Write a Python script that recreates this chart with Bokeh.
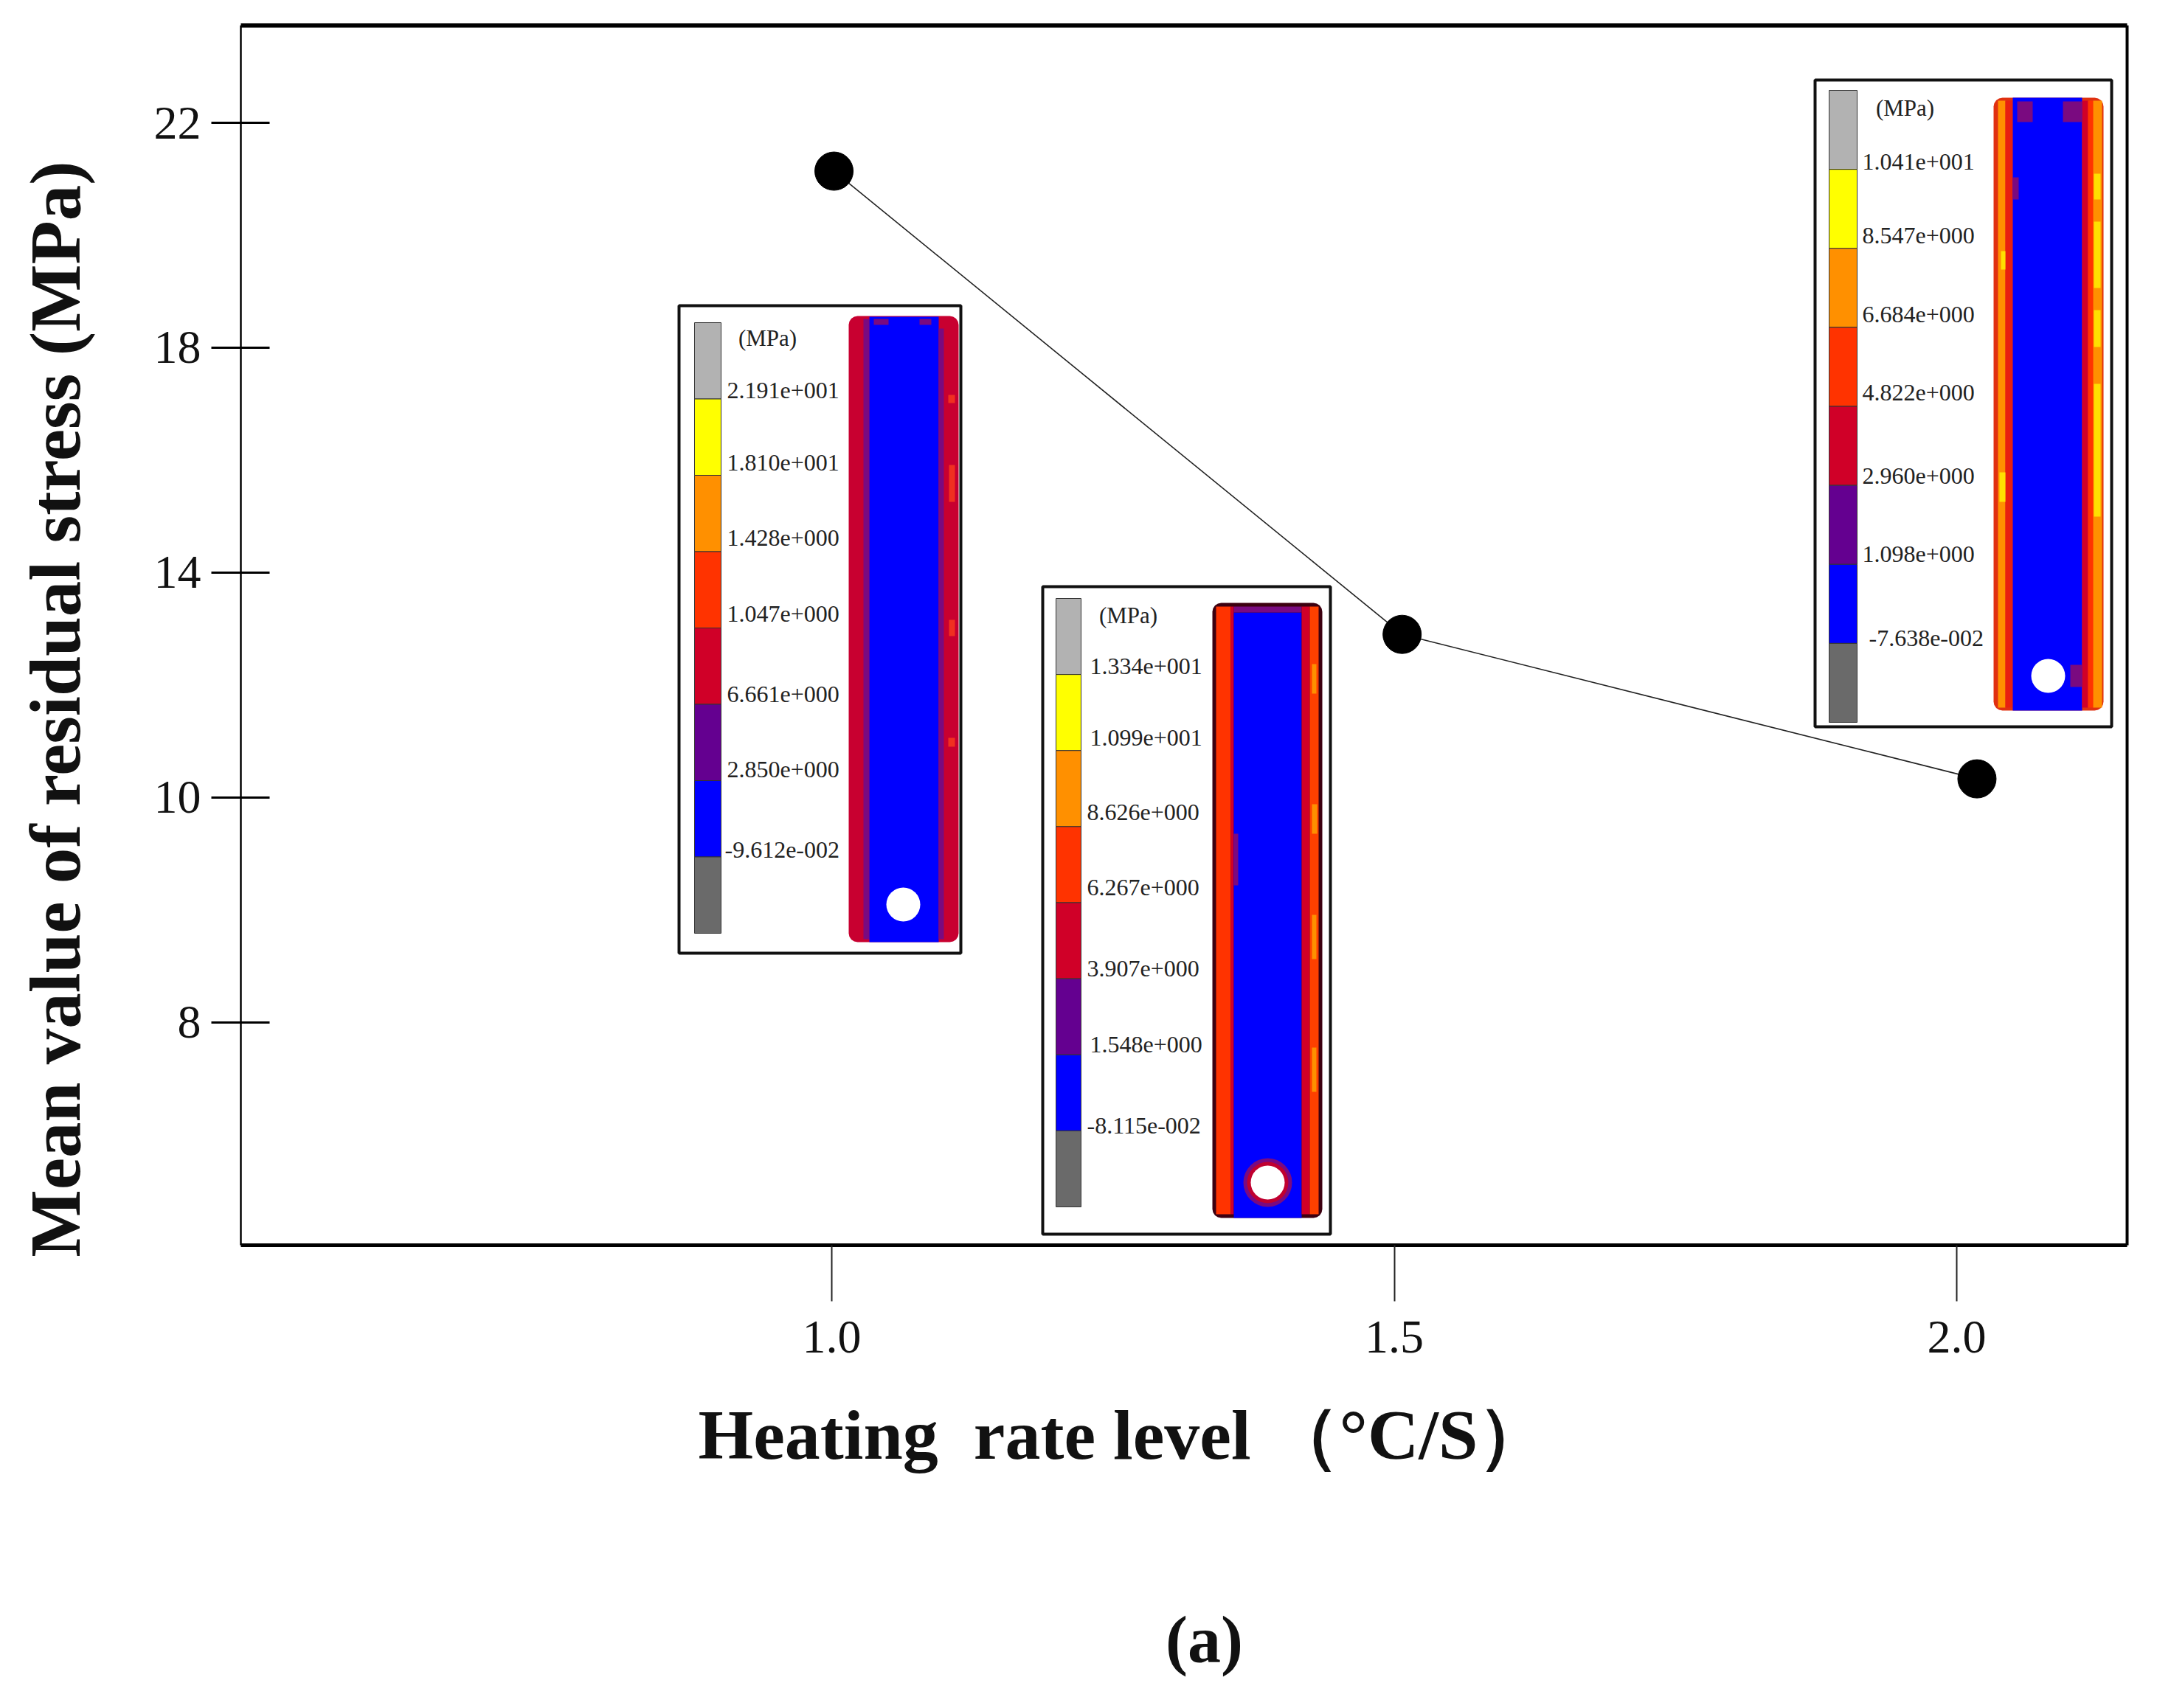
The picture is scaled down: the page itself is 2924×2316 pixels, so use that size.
import math
from bokeh.plotting import figure
from bokeh.embed import file_html
from bokeh.resources import INLINE
from bokeh.models import LinearAxis, FixedTicker, Range1d
from bokeh.core.properties import value

# ---- data
heating_rate = [1.002, 1.507, 2.018]
mean_stress = [21.14, 12.90, 10.33]
x_ticks = [1.0, 1.5, 2.0]
x_tick_text = {1.0: "1.0", 1.5: "1.5", 2.0: "2.0"}
y_ticks = [22, 18, 14, 10, 6]           # the last tick of the source axis sits where 6 would be
y_tick_text = {22: "22", 18: "18", 14: "14", 10: "10", 6: "8"}
x_title = "Heating\u00a0\u00a0rate level  （°C/S）"
y_title = "Mean value of residual stress (MPa)"
caption = "(a)"
legend_colors = ["#b2b2b2", "#ffff00", "#ff9000", "#ff3300", "#d00028", "#640090", "#0000ff", "#6a6a6a"]
labels_a = ["2.191e+001", "1.810e+001", "1.428e+000", "1.047e+000", "6.661e+000", "2.850e+000", "-9.612e-002"]
labels_b = ["1.334e+001", "1.099e+001", "8.626e+000", "6.267e+000", "3.907e+000", "1.548e+000", "-8.115e-002"]
labels_c = ["1.041e+001", "8.547e+000", "6.684e+000", "4.822e+000", "2.960e+000", "1.098e+000", "-7.638e-002"]

# ---- page geometry (pixels in the window)
W, H = 2924, 2316
F_L, F_R, F_T, F_B = 326, 2883, 34, 1688
XPX, YPX = 1525.0, 76.23
X0PX, Y22PX = 1127.0, 166.0

def dx(px):
    return 1.0 + (px - X0PX) / XPX

def dy(px):
    return 22.0 - (px - Y22PX) / YPX

SERIF = "Liberation Serif"

p = figure(width=W - 8, height=H - 8, output_backend="svg", toolbar_location=None,
           x_range=Range1d(dx(F_L), dx(F_R)), y_range=Range1d(dy(F_B), dy(F_T)),
           x_axis_type=None, y_axis_type=None,
           min_border_left=F_L, min_border_right=W - 8 - F_R,
           min_border_top=F_T, min_border_bottom=H - 8 - F_B)
p.grid.visible = False
p.outline_line_color = None
p.background_fill_color = "white"

bottom = LinearAxis(ticker=FixedTicker(ticks=x_ticks), major_label_overrides=x_tick_text)
bottom.axis_line_width = 5
bottom.major_tick_in = 0
bottom.major_tick_out = 76
bottom.major_tick_line_width = 2
bottom.major_tick_line_color = "#222222"
bottom.minor_tick_line_color = None
bottom.major_label_text_font = SERIF
bottom.major_label_text_font_size = "64px"
bottom.major_label_text_color = "#111111"
bottom.major_label_standoff = 27
p.add_layout(bottom, "below")

left = LinearAxis(ticker=FixedTicker(ticks=y_ticks), major_label_overrides=y_tick_text)
left.axis_line_width = 2.5
left.major_tick_in = 39
left.major_tick_out = 40
left.major_tick_line_width = 3
left.minor_tick_line_color = None
left.major_label_text_font = SERIF
left.major_label_text_font_size = "64px"
left.major_label_text_color = "#111111"
left.major_label_standoff = 14
p.add_layout(left, "left")

for side in ("above", "right"):
    ax = LinearAxis(ticker=FixedTicker(ticks=[]))
    ax.axis_line_width = 6 if side == "above" else 4
    ax.major_tick_line_color = None
    ax.minor_tick_line_color = None
    ax.major_label_text_font_size = "0px"
    ax.major_label_standoff = 0
    p.add_layout(ax, side)


def plate_outline(x0, x1, y0, y1, r):
    xs, ys = [], []
    for cx, cy, a0 in ((x1 - r, y0 + r, -90), (x1 - r, y1 - r, 0), (x0 + r, y1 - r, 90), (x0 + r, y0 + r, 180)):
        for k in range(5):
            a = math.radians(a0 + k * 22.5)
            xs.append(dx(cx + r * math.cos(a)))
            ys.append(dy(cy + r * math.sin(a)))
    return xs, ys


def boxes(rects, color):
    if rects:
        p.quad(left=[dx(r[0]) for r in rects], right=[dx(r[1]) for r in rects],
               top=[dy(r[2]) for r in rects], bottom=[dy(r[3]) for r in rects],
               fill_color=color, line_color=None)


def inset(box, bar, label_y, label_x, texts, unit, plate, edge, bands, flecks, hole, ring=None):
    bx0, bx1, by0, by1 = box
    p.quad(left=[dx(bx0)], right=[dx(bx1)], top=[dy(by0)], bottom=[dy(by1)],
           fill_color="white", line_color="#111111", line_width=4)
    cx0, cx1, cy0, cy1 = bar
    step = (cy1 - cy0) / len(legend_colors)
    p.quad(left=[dx(cx0)] * 8, right=[dx(cx1)] * 8,
           top=[dy(cy0 + i * step) for i in range(8)],
           bottom=[dy(cy0 + (i + 1) * step) for i in range(8)],
           fill_color=legend_colors, line_color="#333333", line_width=1)
    p.text(x=[dx(unit[0] - 3)], y=[dy(unit[1] - 4)], text=["(MPa)"], text_font=value(SERIF),
           text_font_size="31px", text_align="center", text_baseline="middle", text_color="#222222")
    p.text(x=[dx(v) for v in label_x], y=[dy(v - 4) for v in label_y], text=texts, text_font=value(SERIF),
           text_font_size="32px", text_align="left", text_baseline="middle", text_color="#222222")
    px0, px1, py0, py1 = plate
    xs, ys = plate_outline(px0, px1, py0, py1, 12)
    p.patch(xs, ys, fill_color=edge, line_color=None)
    for b0, b1, top_px, bot_px, color in bands:
        boxes([(b0, b1, top_px, bot_px)], color)
    for color, rects in flecks:
        boxes(rects, color)
    if ring:
        for rad, col in ((ring, "#7a0a80"), (ring - 5, "#c00030")):
            p.ellipse(x=[dx(hole[0])], y=[dy(hole[1])], width=rad * 2 / XPX, height=rad * 2 / YPX,
                      fill_color=col, line_color=None)
    p.ellipse(x=[dx(hole[0])], y=[dy(hole[1])], width=hole[2] * 2 / XPX, height=hole[2] * 2 / YPX,
              fill_color="white", line_color=None)


# left inset
inset(box=(920, 1302, 414, 1292), bar=(941, 977, 437, 1265),
      label_y=[533, 631, 733, 836, 945, 1047, 1156],
      label_x=[985, 985, 985, 985, 985, 985, 982], texts=labels_a, unit=(1043, 462),
      plate=(1150, 1299, 428, 1277), edge="#c80030",
      bands=[(1170, 1178, 432, 1273, "#7a0a80"), (1178, 1272, 429, 1277, "#0000ff"),
             (1272, 1279, 445, 1273, "#7a0a80")],
      flecks=[("#7a0a80", [(1184, 1204, 432, 440), (1246, 1262, 432, 440)]),
              ("#f03020", [(1285, 1294, 535, 546), (1286, 1294, 630, 680), (1286, 1294, 840, 862), (1285, 1294, 1000, 1012)])],
      hole=(1224, 1226, 23))

# middle inset
inset(box=(1413, 1803, 795, 1673), bar=(1431, 1465, 811, 1636),
      label_y=[907, 1004, 1105, 1207, 1317, 1420, 1530],
      label_x=[1477, 1477, 1473, 1473, 1473, 1477, 1473], texts=labels_b, unit=(1532, 838),
      plate=(1643, 1792, 817, 1651), edge="#3d0010",
      bands=[(1648, 1668, 822, 1646, "#ff3300"), (1668, 1672, 822, 1646, "#d00028"),
             (1672, 1764, 830, 1651, "#0000ff"), (1672, 1764, 822, 830, "#7a0a80"),
             (1764, 1775, 822, 1646, "#d00028"), (1775, 1787, 822, 1646, "#ff4000")],
      flecks=[("#ff9000", [(1778, 1784, 900, 940), (1778, 1785, 1090, 1130), (1778, 1784, 1240, 1300), (1778, 1784, 1420, 1480)]),
              ("#7a0a80", [(1672, 1678, 1130, 1200)])],
      hole=(1718, 1603, 23), ring=33)

# right inset
inset(box=(2460, 2862, 108, 985), bar=(2479, 2517, 122, 979),
      label_y=[223, 323, 430, 536, 649, 755, 869],
      label_x=[2524, 2524, 2524, 2524, 2524, 2524, 2533], texts=labels_c, unit=(2585, 150),
      plate=(2702, 2851, 132, 963), edge="#e03010",
      bands=[(2708, 2718, 136, 959, "#ff9000"),
             (2718, 2728, 136, 959, "#e82010"), (2728, 2822, 132, 963, "#0000ff"),
             (2822, 2830, 136, 959, "#d00028"), (2830, 2837, 136, 959, "#ff3300"),
             (2837, 2849, 136, 959, "#ff9000")],
      flecks=[("#7a0a80", [(2734, 2755, 137, 165), (2796, 2822, 137, 165), (2806, 2822, 901, 931), (2728, 2736, 240, 270)]),
              ("#ffe000", [(2838, 2847, 235, 270), (2838, 2847, 300, 390), (2838, 2847, 420, 470), (2838, 2847, 520, 700), (2712, 2718, 340, 365), (2710, 2718, 640, 680)])],
      hole=(2776, 916, 23))

# the series
p.line(heating_rate, mean_stress, line_color="#222222", line_width=1.6)
p.scatter(heating_rate, mean_stress, size=52, marker="circle", fill_color="black", line_color="black")

# titles outside the frame
p.text(x=[dx(946)], y=[dy(1945)], text=[x_title], text_font=value(SERIF), text_font_size="96px",
       text_font_style="bold", text_align="left", text_baseline="middle", text_color="#111111", level="overlay")
p.text(x=[dx(75)], y=[dy(961)], text=[y_title], text_font=value(SERIF), text_font_size="97px",
       text_font_style="bold", text_align="center", text_baseline="middle", angle=math.pi / 2,
       text_color="#111111", level="overlay")
p.text(x=[dx(1632)], y=[dy(2223)], text=[caption], text_font=value(SERIF), text_font_size="90px",
       text_font_style="bold", text_align="center", text_baseline="middle", text_color="#111111", level="overlay")

open("out.html", "w").write(file_html(p, INLINE))
